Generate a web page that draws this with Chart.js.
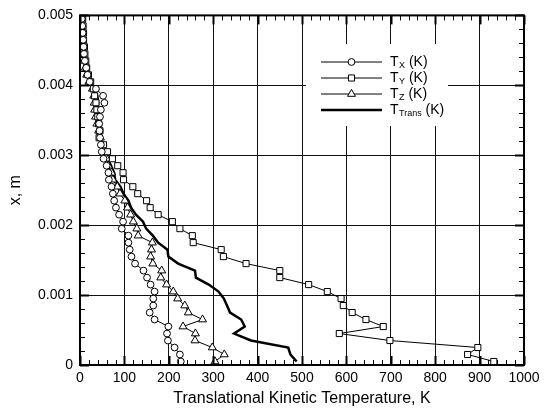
<!DOCTYPE html>
<html>
<head>
<meta charset="utf-8">
<script src="https://cdn.jsdelivr.net/npm/chart.js@4.4.1/dist/chart.umd.min.js"></script>
<style>
    html, body { margin: 0; padding: 0; background: #fff; }
    #wrap { width: 546px; height: 413px; }
</style>
</head>
<body>
<div id="wrap"><canvas id="tempChart"></canvas></div>
<script>
// x position (m), bottom to top
const positions = [0.00005, 0.00015, 0.00025, 0.00035, 0.00045, 0.00055, 0.00065, 0.00075, 0.00085, 0.00095,
    0.00105, 0.00115, 0.00125, 0.00135, 0.00145, 0.00155, 0.00165, 0.00175, 0.00185, 0.00195,
    0.00205, 0.00215, 0.00225, 0.00235, 0.00245, 0.00255, 0.00265, 0.00275, 0.00285, 0.00295,
    0.00305, 0.00315, 0.00325, 0.00335, 0.00345, 0.00355, 0.00365, 0.00375, 0.00385, 0.00395,
    0.00405, 0.00415, 0.00425, 0.00435, 0.00445, 0.00455, 0.00465, 0.00475, 0.00485, 0.00495];

const tempX = [227, 225, 213, 198, 196, 199, 168, 157, 165, 165,
    168, 159, 151, 143, 124, 116, 112, 109, 109, 94,
    97, 88, 81, 77, 74, 71, 65, 64, 60, 53,
    49, 47, 45, 44, 43, 45, 47, 55, 52, 36,
    22, 17, 14, 11, 9, 8, 7, 6, 5, 4];

const tempY = [932, 873, 896, 698, 584, 683, 644, 613, 593, 588,
    557, 515, 450, 450, 374, 323, 318, 255, 253, 225,
    208, 176, 158, 150, 130, 119, 98, 97, 85, 73,
    62, 53, 43, 45, 42, 40, 38, 36, 33, 30,
    24, 19, 15, 13, 11, 10, 8, 8, 7, 6];

const tempZ = [304, 325, 298, 259, 260, 232, 276, 244, 236, 220,
    210, 195, 182, 184, 164, 159, 161, 163, 131, 128,
    120, 114, 107, 101, 90, 84, 74, 71, 64, 60,
    55, 50, 46, 42, 38, 35, 33, 32, 31, 28,
    20, 15, 12, 10, 8, 7, 6, 5, 4, 3];

const tempTrans = [488, 474, 469, 385, 347, 371, 363, 338, 331, 324,
    312, 290, 261, 259, 221, 199, 197, 176, 164, 149,
    142, 126, 115, 109, 98, 91, 79, 77, 70, 62,
    55, 50, 45, 44, 41, 40, 39, 41, 39, 31,
    22, 17, 14, 11, 9, 8, 7, 6, 5, 4];

const seriesNames = [['T', 'X'], ['T', 'Y'], ['T', 'Z'], ['T', 'Trans']];
const xTicks = [0, 100, 200, 300, 400, 500, 600, 700, 800, 900, 1000];
const yTicks = [0, 0.001, 0.002, 0.003, 0.004, 0.005];

function toPoints(temps) {
    return temps.map((t, i) => ({ x: t, y: positions[i] }));
}

const styles = [
    { pointStyle: 'circle', radius: 3.4, width: 1 },
    { pointStyle: 'rect', radius: 4.3, width: 1 },
    { pointStyle: 'triangle', radius: 4.6, width: 1 },
    { pointStyle: false, radius: 0, width: 2.5 }
];

function makeSet(temps, s) {
    return {
        data: toPoints(temps),
        showLine: true,
        borderColor: '#000',
        backgroundColor: '#fff',
        borderWidth: s.width,
        pointStyle: s.pointStyle,
        pointRadius: s.radius,
        pointBorderWidth: 1,
        pointBorderColor: '#000',
        pointBackgroundColor: '#fff',
        tension: 0
    };
}

// inward ticks on all four sides + frame + legend
const frameTicks = {
    id: 'frameTicks',
    afterDraw(chart) {
        const { ctx, chartArea: a, scales: { x, y } } = chart;
        ctx.save();
        ctx.strokeStyle = '#000';
        function seg(x1, y1, x2, y2, w) {
            ctx.lineWidth = w;
            ctx.beginPath();
            ctx.moveTo(x1, y1);
            ctx.lineTo(x2, y2);
            ctx.stroke();
        }
        for (let i = 0; i <= 50; i++) {
            const major = i % 5 === 0;
            const px = Math.round(x.getPixelForValue(i * 20)) + 0.5;
            const len = major ? 9 : 5;
            const w = major ? 2 : 1;
            seg(px, a.bottom, px, a.bottom - len, w);
            seg(px, a.top, px, a.top + len, w);
        }
        for (let i = 0; i <= 25; i++) {
            const major = i % 5 === 0;
            const py = Math.round(y.getPixelForValue(i * 0.0002)) + 0.5;
            const len = major ? 9 : 5;
            const w = major ? 2 : 1;
            seg(a.left, py, a.left + len, py, w);
            seg(a.right, py, a.right - len, py, w);
        }
        ctx.lineWidth = 2;
        ctx.strokeRect(a.left, a.top, a.right - a.left, a.bottom - a.top);

        // legend
        ctx.fillStyle = '#fff';
        ctx.fillRect(306, 44, 142, 82);
        const rows = [62, 78, 94, 110];
        rows.forEach((ry, i) => {
            const s = styles[i];
            seg(321, ry, 382, ry, s.width);
            if (s.pointStyle) {
                ctx.fillStyle = '#fff';
                ctx.strokeStyle = '#000';
                Chart.helpers.drawPoint(ctx, { pointStyle: s.pointStyle, radius: s.radius, rotation: 0, borderWidth: 1 }, 351.5, ry);
            }
            ctx.fillStyle = '#000';
            ctx.textBaseline = 'middle';
            ctx.textAlign = 'left';
            ctx.font = '14px "Liberation Sans", Arial, sans-serif';
            let tx = 390;
            ctx.fillText(seriesNames[i][0], tx, ry);
            tx += ctx.measureText(seriesNames[i][0]).width;
            ctx.font = '9px "Liberation Sans", Arial, sans-serif';
            ctx.fillText(seriesNames[i][1], tx + 0.5, ry + 4);
            tx += ctx.measureText(seriesNames[i][1]).width + 0.5;
            ctx.font = '14px "Liberation Sans", Arial, sans-serif';
            ctx.fillText(' (K)', tx, ry);
        });
        ctx.restore();
    }
};

document.addEventListener('DOMContentLoaded', function () {
    const ctx = document.getElementById('tempChart').getContext('2d');

    new Chart(ctx, {
        type: 'scatter',
        data: {
            datasets: [
                makeSet(tempX, styles[0]),
                makeSet(tempY, styles[1]),
                makeSet(tempZ, styles[2]),
                makeSet(tempTrans, styles[3])
            ]
        },
        options: {
            responsive: true,
            maintainAspectRatio: false,
            animation: false,
            layout: { padding: { top: 11, right: 22, left: 0, bottom: 0 } },
            plugins: {
                legend: { display: false },
                tooltip: { enabled: false }
            },
            scales: {
                x: {
                    type: 'linear',
                    min: 0,
                    max: 1000,
                    afterBuildTicks: (scale) => { scale.ticks = xTicks.map(v => ({ value: v })); },
                    afterFit: (scale) => { scale.height = 48; },
                    grid: { color: '#111', lineWidth: 1, drawTicks: false },
                    border: { display: false },
                    ticks: {
                        color: '#000',
                        padding: 5,
                        maxRotation: 0,
                        callback: (v) => String(v),
                        font: { family: '"Liberation Sans", Arial, sans-serif', size: 14 }
                    },
                    title: {
                        display: true,
                        text: 'Translational Kinetic Temperature, K',
                        color: '#000',
                        padding: { top: 0, bottom: 5 },
                        font: { family: '"Liberation Sans", Arial, sans-serif', size: 16 }
                    }
                },
                y: {
                    type: 'linear',
                    min: 0,
                    max: 0.005,
                    afterBuildTicks: (scale) => { scale.ticks = yTicks.map(v => ({ value: v })); },
                    afterFit: (scale) => { scale.width = 80; },
                    grid: { color: '#111', lineWidth: 1, drawTicks: false },
                    border: { display: false },
                    ticks: {
                        color: '#000',
                        padding: 7,
                        callback: (v) => v === 0 ? '0' : v.toFixed(3),
                        font: { family: '"Liberation Sans", Arial, sans-serif', size: 14 }
                    },
                    title: {
                        display: true,
                        text: 'x, m',
                        color: '#000',
                        padding: { top: 6, bottom: 0 },
                        font: { family: '"Liberation Sans", Arial, sans-serif', size: 16 }
                    }
                }
            }
        },
        plugins: [frameTicks]
    });
});
</script>
</body>
</html>
